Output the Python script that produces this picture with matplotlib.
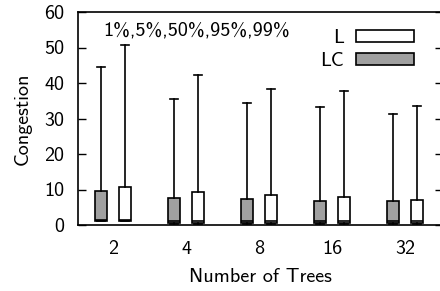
import numpy as np
import matplotlib
matplotlib.use('Agg')
import matplotlib.pyplot as plt
from matplotlib.patches import Patch

trees = ['2', '4', '8', '16', '32']

# percentiles: 1%, 5%, 50%, 95%, 99%
lc_p1  = [1.0, 0.3, 0.3, 0.3, 0.3]
lc_p5  = [1.2, 0.6, 0.6, 0.6, 0.6]
lc_p50 = [1.3, 1.2, 1.2, 1.2, 1.2]
lc_p95 = [9.7, 7.7, 7.2, 6.8, 6.7]
lc_p99 = [44.6, 35.6, 34.4, 33.3, 31.2]

l_p1  = [1.0, 0.3, 0.3, 0.3, 0.3]
l_p5  = [1.2, 0.6, 0.6, 0.6, 0.6]
l_p50 = [1.3, 1.2, 1.2, 1.2, 1.2]
l_p95 = [10.6, 9.2, 8.4, 7.9, 7.0]
l_p99 = [50.7, 42.3, 38.2, 37.8, 33.5]

plt.rcParams['font.family'] = ['cmss10', 'DejaVu Sans']
plt.rcParams['axes.unicode_minus'] = False
fs = 14.5

def make_stats(p1, p5, p50, p95, p99):
    st = []
    for a, b, c, d, e in zip(p1, p5, p50, p95, p99):
        st.append({'whislo': a, 'q1': b, 'med': c, 'q3': d, 'whishi': e})
    return st

fig = plt.figure(figsize=(4.40, 2.91), dpi=100)
ax = fig.add_axes([78/440, 1-225/291, (443-78)/440, (225-12)/291])

x = np.arange(len(trees))
off = 0.16
w = 0.165
lw = 1.2
common = dict(widths=w, patch_artist=True, showfliers=False,
              whiskerprops=dict(color='black', lw=lw),
              capprops=dict(color='black', lw=lw),
              medianprops=dict(color='black', lw=lw),
              capwidths=0.11)
ax.bxp(make_stats(lc_p1, lc_p5, lc_p50, lc_p95, lc_p99), positions=x - off,
       boxprops=dict(facecolor='#a0a0a0', edgecolor='black', lw=lw), **common)
ax.bxp(make_stats(l_p1, l_p5, l_p50, l_p95, l_p99), positions=x + off,
       boxprops=dict(facecolor='white', edgecolor='black', lw=lw), **common)

ax.set_xlim(-0.48, len(trees) - 0.48)
ax.set_ylim(0, 60)
ax.set_xticks(x)
ax.set_xticklabels(trees)
ax.set_yticks(np.arange(0, 61, 10))
ax.tick_params(axis='y', direction='in', length=6, width=1, right=True,
               labelsize=fs, pad=10)
ax.tick_params(axis='x', length=0, labelsize=fs, pad=11)
for s in ax.spines.values():
    s.set_linewidth(1.2)

ax.set_xlabel('Number of Trees', fontsize=fs, labelpad=7)
ax.set_ylabel('Congestion', fontsize=fs, labelpad=9)
ax.text(0.068, 0.915, '1%,5%,50%,95%,99%', transform=ax.transAxes,
        fontsize=fs, va='center', ha='left')

handles = [Patch(facecolor='white', edgecolor='black', lw=lw),
           Patch(facecolor='#a0a0a0', edgecolor='black', lw=lw)]
ax.legend(handles, ['L', 'LC'], loc='upper right', bbox_to_anchor=(0.968, 1.0),
          frameon=False, markerfirst=False, handlelength=2.9, handleheight=0.5,
          labelspacing=0.25, handletextpad=0.6, fontsize=fs, borderaxespad=0.45)

fig.savefig('out.png', dpi=100)
